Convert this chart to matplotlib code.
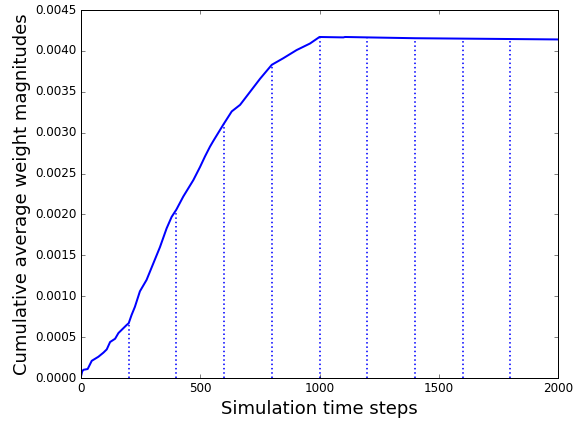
import numpy as np
import matplotlib
matplotlib.use("Agg")
import matplotlib.pyplot as plt

plt.style.use("classic")

# curve (step, value)
steps = [0, 5, 10, 28, 45, 73, 94, 108, 122, 143, 157, 178, 192, 200,
         212, 226, 247, 275, 303, 331, 359, 380, 400, 429, 471, 499,
         520, 541, 555, 597, 632, 667, 709, 751, 800, 848, 904, 960, 1000,
         1100, 1107, 1200, 1400, 1600, 1800, 2000]
weights = [0.02, 0.08, 0.10, 0.11, 0.21, 0.26, 0.31, 0.35, 0.44, 0.48,
           0.55, 0.61, 0.65, 0.67, 0.77, 0.87, 1.06, 1.20, 1.40, 1.60,
           1.83, 1.97, 2.06, 2.22, 2.42, 2.58, 2.71, 2.83, 2.90, 3.10,
           3.26, 3.34, 3.50, 3.66, 3.83, 3.91, 4.01, 4.09, 4.17, 4.165,
           4.17, 4.165, 4.155, 4.15, 4.145, 4.14]
weights = [w * 1e-3 for w in weights]

checkpoints = [200, 400, 600, 800, 1000, 1200, 1400, 1600, 1800]

fig = plt.figure(figsize=(574 / 72, 421 / 72), dpi=72)
ax = fig.add_axes([81 / 574, 43 / 421, 477 / 574, 368 / 421])

ax.plot(steps, weights, color="b", linewidth=2)

tops = np.interp(checkpoints, steps, weights)
for c, t in zip(checkpoints, tops):
    ax.plot([c, c], [0, t], color="b", linewidth=1.6,
            linestyle=(0, (1.5, 2.8)))

ax.set_xlim(0, 2000)
ax.set_ylim(0, 0.0045)
ax.set_xticks([0, 500, 1000, 1500, 2000])
ax.set_yticks(np.arange(0, 0.00451, 0.0005))
ax.yaxis.set_major_formatter(plt.FormatStrFormatter("%.4f"))
ax.tick_params(labelsize=12)

ax.set_xlabel("Simulation time steps", fontsize=18)
ax.set_ylabel("Cumulative average weight magnitudes", fontsize=18)

fig.savefig("out.png", dpi=72)
